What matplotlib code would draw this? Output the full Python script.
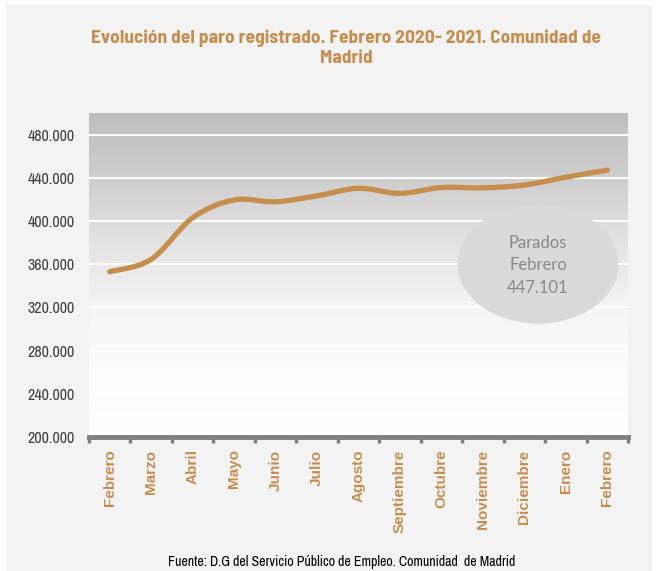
import numpy as np
import matplotlib
matplotlib.use("Agg")
import matplotlib.pyplot as plt
from matplotlib.path import Path
from matplotlib.patches import PathPatch, Ellipse, Rectangle
from matplotlib.ticker import FuncFormatter, FixedLocator

# datos (parados registrados)
meses = ["Febrero", "Marzo", "Abril", "Mayo", "Junio", "Julio", "Agosto",
         "Septiembre", "Octubre", "Noviembre", "Diciembre", "Enero", "Febrero"]
parados = [353000, 364500, 403000, 419500, 417800, 423300, 430300,
           425600, 431000, 430700, 433300, 440500, 447101]
yticks = [200000, 240000, 280000, 320000, 360000, 400000, 440000, 480000]

titulo = "Evolución del paro registrado. Febrero 2020- 2021. Comunidad de\nMadrid"
fuente = "Fuente: D.G del Servicio Público de Empleo. Comunidad  de Madrid"
nota = "Parados\nFebrero\n447.101"

tan = "#c68e4f"

fig = plt.figure(figsize=(6.58, 5.71), dpi=100)
fig.patch.set_facecolor("white")
fig.patches.append(Rectangle((6/658, 0), 646/658, 1 - 5/571, transform=fig.transFigure,
                             facecolor="#f3f3f3", edgecolor="none", zorder=-10))

ax = fig.add_axes([89/658, 1 - 437/571, 539/658, 324/571])
ax.set_xlim(-0.5, len(meses) - 0.5)
ax.set_ylim(200000, 500000)

# fondo degradado del area de trazado
ys = np.linspace(0, 1, 300)
lv = np.interp(ys, [0, 0.2, 0.4, 0.6, 0.8, 0.93, 1.0],
               [1.0, 0.99, 0.96, 0.89, 0.81, 0.77, 0.75])
grad = np.dstack([lv, lv, lv]).reshape(-1, 1, 3)
ax.imshow(grad, extent=[0, 1, 0, 1], transform=ax.transAxes, aspect="auto",
          origin="lower", zorder=0)

for v in yticks[1:]:
    ax.axhline(v, color="white", lw=1.5, zorder=1)

# curva suavizada (estilo Excel) con bezier
x = np.arange(len(parados), dtype=float)
y = np.array(parados, dtype=float)
px = np.concatenate([[x[0]], x, [x[-1]]])
py = np.concatenate([[y[0]], y, [y[-1]]])
verts = [(x[0], y[0])]
codes = [Path.MOVETO]
for i in range(1, len(px) - 2):
    c1 = (px[i] + (px[i + 1] - px[i - 1]) / 6, py[i] + (py[i + 1] - py[i - 1]) / 6)
    c2 = (px[i + 1] - (px[i + 2] - px[i]) / 6, py[i + 1] - (py[i + 2] - py[i]) / 6)
    verts += [c1, c2, (px[i + 1], py[i + 1])]
    codes += [Path.CURVE4] * 3
ax.add_patch(PathPatch(Path(verts, codes), facecolor="none", edgecolor=tan,
                       lw=3.8, capstyle="round", joinstyle="round", zorder=3))

# globo con el dato
ax.add_patch(Ellipse((10.33, 360000), 3.88, 110000, facecolor="#dadada",
                     edgecolor="none", zorder=2))
ax.text(10.33, 359000, nota, ha="center", va="center", fontsize=12,
        color="#8a8a8a", family="Lato", linespacing=1.5, zorder=4)

for s in ["top", "right", "left"]:
    ax.spines[s].set_visible(False)
ax.spines["bottom"].set_color("#808080")
ax.spines["bottom"].set_linewidth(3.5)
ax.spines["bottom"].set_zorder(5)

ax.yaxis.set_major_locator(FixedLocator(yticks))
ax.yaxis.set_major_formatter(FuncFormatter(lambda v, p: f"{int(v):,}".replace(",", ".")))
ax.tick_params(axis="y", length=0, pad=10, labelsize=11.5, labelcolor="#404040")
for t in ax.get_yticklabels():
    t.set_family("Archivo Narrow")

ax.set_xticks(x)
ax.set_xticklabels(meses, rotation=90, va="top", ha="center", fontsize=11,
                   fontweight="bold", color=tan, family="Liberation Sans")
ax.set_xticks(np.arange(len(meses) + 1) - 0.5, minor=True)
ax.tick_params(axis="x", which="major", length=0, pad=9)
ax.tick_params(axis="x", which="minor", length=4, width=2.5, color="#808080", direction="out")

fig.text(346/658, 1 - 48/571, titulo, ha="center", va="center", fontsize=14,
         fontweight="bold", color=tan, family="Barlow Semi Condensed", linespacing=1.2)
fig.text(342/658, 1 - 562/571, fuente, ha="center", va="center", fontsize=10,
         color="black", family="Archivo Narrow")

fig.savefig("out.png", dpi=100)
